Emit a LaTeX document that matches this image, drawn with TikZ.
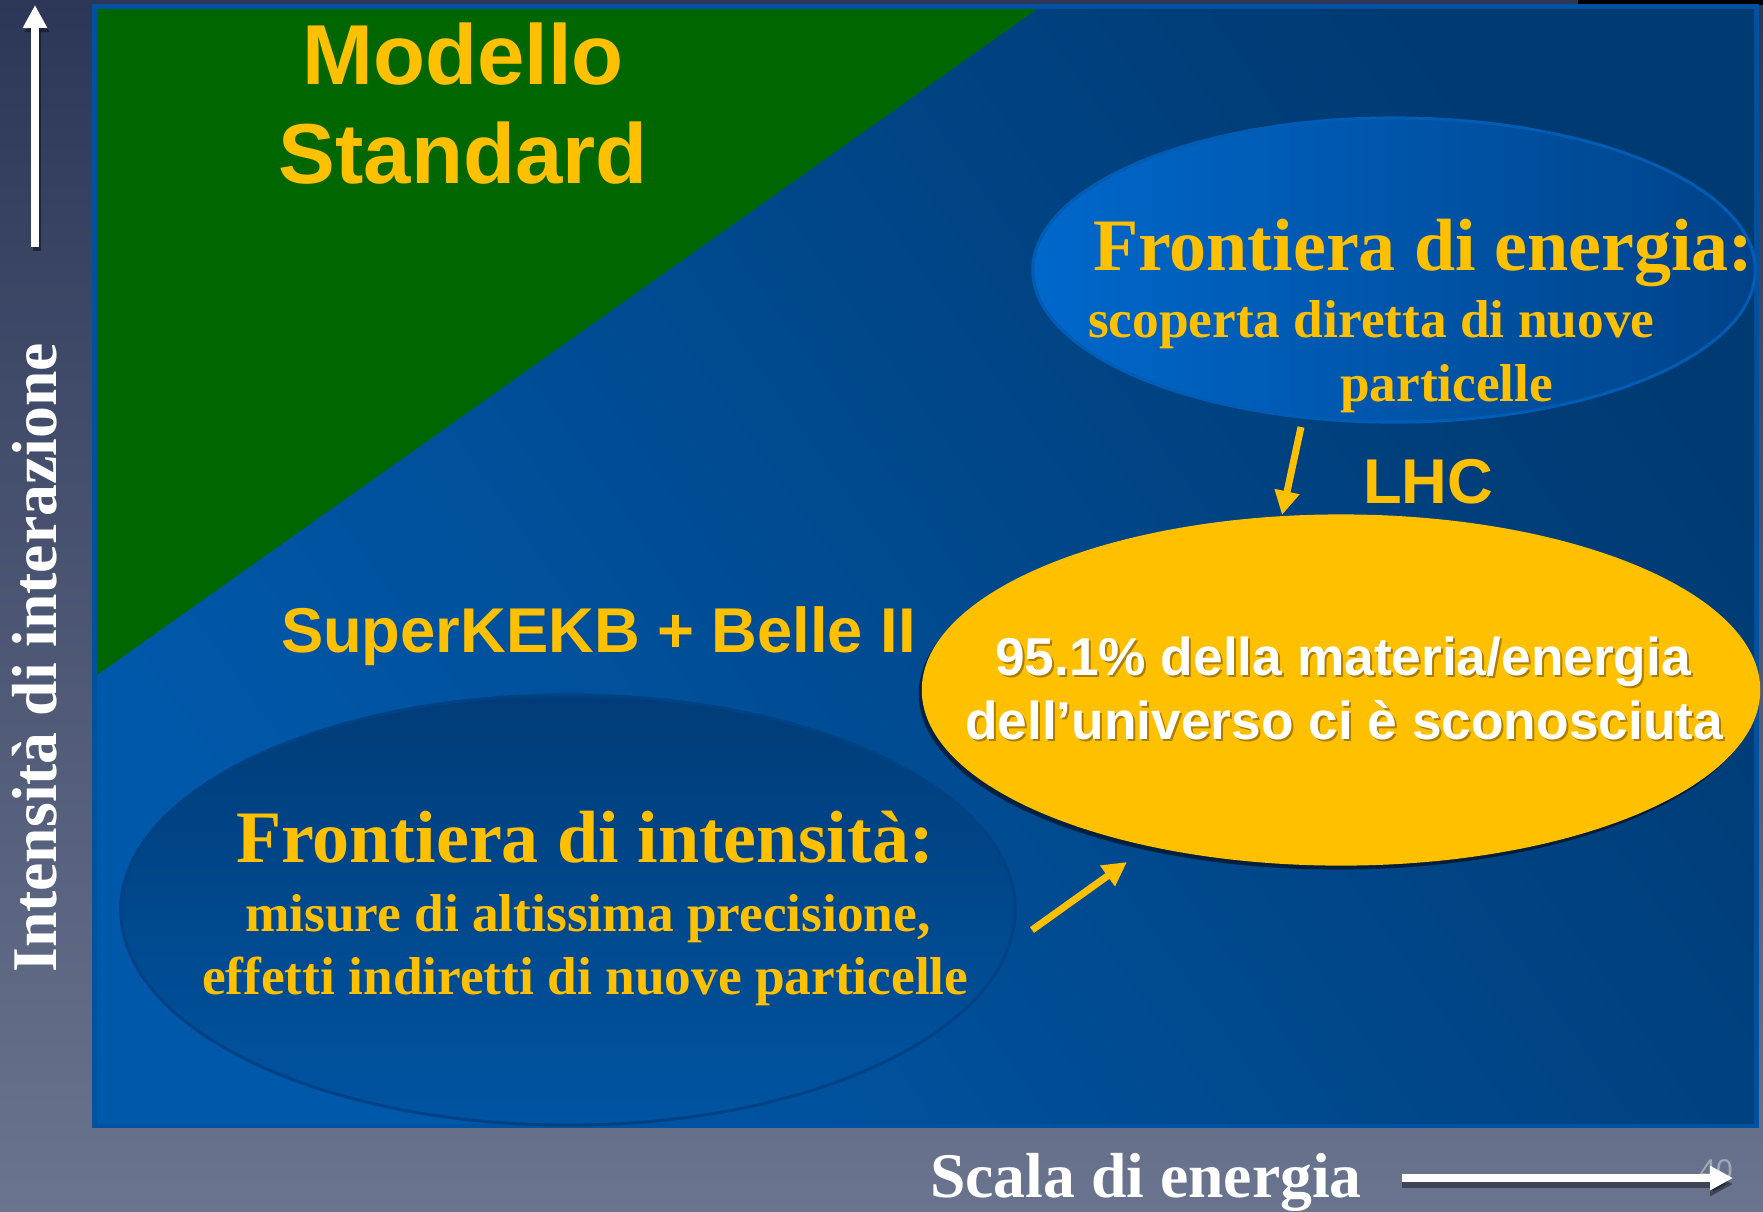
\documentclass[tikz,border=0pt]{standalone}
\usepackage{fontspec}
\setmainfont{Liberation Serif}
\newfontfamily\hv{Liberation Sans}
\usetikzlibrary{shapes.geometric,arrows.meta}
\definecolor{bgtop}{RGB}{44,55,88}
\definecolor{bgbot}{RGB}{106,116,142}
\definecolor{panelborder}{RGB}{0,82,160}
\definecolor{panelA}{RGB}{0,88,170}
\definecolor{panelB}{RGB}{0,58,114}
\definecolor{sgreen}{RGB}{0,102,0}
\definecolor{gold}{RGB}{255,192,0}
\definecolor{enL}{RGB}{0,104,204}
\definecolor{enR}{RGB}{0,66,136}
\definecolor{enRim}{RGB}{0,92,180}
\definecolor{inT}{RGB}{0,60,120}
\definecolor{inB}{RGB}{0,84,162}
\definecolor{inRim}{RGB}{0,66,132}
\definecolor{pagegray}{RGB}{160,168,186}
\definecolor{txtshadow}{RGB}{90,60,0}
\tikzset{
  txt/.style={inner sep=0pt, outer sep=0pt},
  hvbig/.style={txt, text=gold, font={\hv\bfseries\fontsize{24.2pt}{29pt}\selectfont}},
  hvmid/.style={txt, text=gold, font={\hv\bfseries\fontsize{18pt}{22pt}\selectfont}},
  hvwhite/.style={txt, text=white, font={\hv\bfseries\fontsize{15.15pt}{18pt}\selectfont}},
  hvshadow/.style={txt, text=txtshadow, opacity=0.5, font={\hv\bfseries\fontsize{15.15pt}{18pt}\selectfont}},
  tmbig/.style={txt, text=gold, font={\bfseries\fontsize{21.05pt}{25pt}\selectfont}},
  tmsmall/.style={txt, text=gold, font={\bfseries\fontsize{15.17pt}{18pt}\selectfont}},
  tmaxis/.style={txt, text=white, font={\bfseries\fontsize{18.1pt}{22pt}\selectfont}},
  goldarrow/.style={gold, line width=0.07cm, -{Triangle[length=0.24cm,width=0.24cm]}},
  whitearrow/.style={white, line width=0.08cm, -{Triangle[length=0.23cm,width=0.23cm]}},
  arrowshadow/.style={black, opacity=0.4, line width=0.08cm, -{Triangle[length=0.23cm,width=0.23cm]}}
}
\begin{document}
\begin{tikzpicture}[x=0.01cm,y=-0.01cm]
\useasboundingbox (0,0) rectangle (1763,1211);
% background
\shade[top color=bgtop,bottom color=bgbot] (0,0) rectangle (1763,1211);
\fill[black] (1578,0) rectangle (1763,5);
% panel
\fill[panelborder] (92,4) rectangle (1759,1128);
\shade[top color=panelB, bottom color=panelA, shading angle=-55] (97,9) rectangle (1754,1123);
% green triangle
\fill[sgreen] (97,9) -- (1037,9) -- (97,675) -- cycle;
% ellipses
\node[ellipse, inner sep=0pt, minimum width=7.22cm, minimum height=3.04cm,
      left color=enL, right color=enR, draw=enRim, line width=0.03cm] (energia) at (1394,270) {};
\node[ellipse, inner sep=0pt, minimum width=8.94cm, minimum height=4.30cm,
      top color=inT, bottom color=inB, draw=inRim, line width=0.03cm] (intensita) at (568,910) {};
\node[ellipse, inner sep=0pt, minimum width=8.38cm, minimum height=3.51cm,
      fill=black, opacity=0.55] (ignotoshadow) at (1338,694) {};
\node[ellipse, inner sep=0pt, minimum width=8.38cm, minimum height=3.51cm,
      fill=gold] (ignoto) at (1341,690) {};
% titles
\node[hvbig, anchor=base] (modello) at (463,84) {Modello};
\node[hvbig, anchor=base] (standard) at (463,183) {Standard};
\node[hvmid, anchor=base west] (superkekb) at (281,652) {SuperKEKB + Belle II};
\node[hvmid, anchor=base west] (lhc) at (1363,503) {LHC};
% energy frontier text
\node[tmbig, anchor=base west] (en1) at (1093,270) {Frontiera di energia:};
\node[tmsmall, anchor=base west] (en2) at (1088,337) {scoperta diretta di nuove};
\node[tmsmall, anchor=base west] (en3) at (1340,401) {particelle};
% intensity frontier text
\node[tmbig, anchor=base west] (in1) at (236,862) {Frontiera di intensità:};
\node[tmsmall, anchor=base west] (in2) at (245,931) {misure di altissima precisione,};
\node[tmsmall, anchor=base west] (in3) at (202,994) {effetti indiretti di nuove particelle};
% unknown text
\node[hvshadow, anchor=base] (ig1s) at (1345,677) {95.1\% della materia/energia};
\node[hvwhite, anchor=base] (ig1) at (1343,675) {95.1\% della materia/energia};
\node[hvshadow, anchor=base] (ig2s) at (1346,741) {dell’universo ci è sconosciuta};
\node[hvwhite, anchor=base] (ig2) at (1344,739) {dell’universo ci è sconosciuta};
% axes labels
\node[tmaxis, anchor=base, rotate=90] (ylabel) at (56,658) {Intensità di interazione};
\node[tmaxis, anchor=base] (xlabel) at (1146,1197) {Scala di energia};
\node[txt, text=pagegray, font={\hv\fontsize{8.5pt}{10pt}\selectfont}] (pagenum) at (1716,1170) {40};
% arrow coordinates
\coordinate (ya) at (35,247);
\coordinate (yb) at (35,5);
\coordinate (yas) at (37,251);
\coordinate (ybs) at (37,9);
\coordinate (xa) at (1402,1178);
\coordinate (xb) at (1733,1178);
\coordinate (xas) at (1402,1184);
\coordinate (xbs) at (1733,1184);
\coordinate (lhca) at (1301,427);
\coordinate (lhcb) at (1282,515);
\coordinate (skba) at (1032,930);
\coordinate (skbb) at (1127,862);
% white axis arrows
\draw[arrowshadow] (yas) -- (ybs);
\draw[whitearrow] (ya) -- (yb);
\draw[arrowshadow] (xas) -- (xbs);
\draw[whitearrow] (xa) -- (xb);
% gold arrows
\draw[goldarrow] (lhca) -- (lhcb);
\draw[goldarrow] (skba) -- (skbb);
\end{tikzpicture}
\end{document}
